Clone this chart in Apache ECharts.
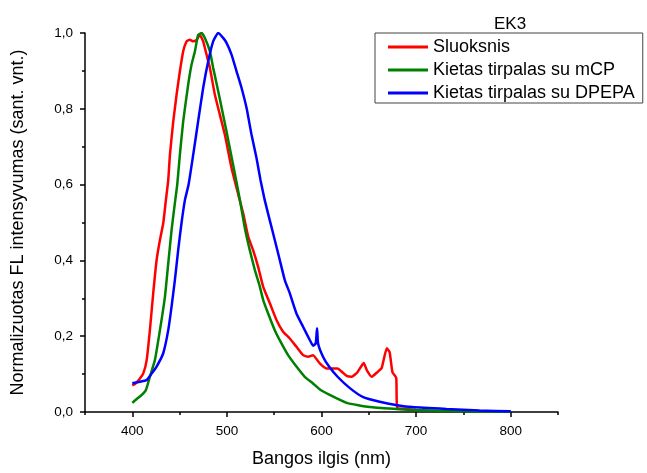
<!DOCTYPE html>
<html><head><meta charset="utf-8">
<script src="https://cdn.jsdelivr.net/npm/echarts@6/dist/echarts.min.js"></script>
<style>html,body{margin:0;padding:0;background:#fff}#c{width:647px;height:473px}</style>
</head><body><div id="c"></div>
<script>
const seriesNames = ['Sluoksnis', 'Kietas tirpalas su mCP', 'Kietas tirpalas su DPEPA'];
const colors = ['#ff0000', '#008000', '#0000ff'];
const xTicks = [400, 500, 600, 700, 800];
const xMinorTicks = [350, 450, 550, 650, 750, 850];

const redX = [400,402.8,407,411.6,415.2,418.6,422.1,425.7,429.2,432.7,435.5,438,439.8,443.3,446.8,450.3,453.8,457.4,460.9,464.4,467.9,471.4,474.9,478.5,482,487.3,492.6,497.8,504.9,511.9,517.2,522.5,527.7,533,538.3,545.4,552.4,559.4,566.5,573.5,580.5,585.8,591.1,598.2,605.2,612,617,622,626.6,632,638,644.6,648,653,659,663.6,669,672,675,679,680,690,700];
const redY = [0.07,0.074,0.085,0.102,0.137,0.216,0.313,0.401,0.454,0.498,0.559,0.612,0.679,0.767,0.837,0.899,0.952,0.978,0.982,0.978,0.982,0.995,0.978,0.943,0.908,0.837,0.784,0.732,0.644,0.575,0.524,0.463,0.427,0.383,0.331,0.287,0.243,0.212,0.194,0.172,0.15,0.146,0.15,0.128,0.115,0.115,0.115,0.105,0.095,0.093,0.105,0.129,0.11,0.093,0.105,0.116,0.168,0.158,0.105,0.09,0.012,0.008,0.005];

const greenX = [400,405,410,414.4,418.6,423.9,429.2,434.5,438,441.5,445,447.5,450.3,453.8,459.1,462.6,466.2,469.6,473.2,476.7,482,485.5,492.6,499.6,506.6,513.7,519,524.2,529.5,534.8,538.3,543.6,550.6,557.7,564.7,573.5,582.3,590.8,598,608.7,626.7,651,679,700,750,800];
const greenY = [0.024,0.035,0.045,0.058,0.093,0.137,0.216,0.304,0.392,0.48,0.551,0.6,0.679,0.767,0.864,0.916,0.952,0.995,1.0,0.987,0.952,0.908,0.825,0.74,0.652,0.56,0.485,0.427,0.375,0.331,0.296,0.26,0.216,0.181,0.15,0.12,0.093,0.076,0.06,0.045,0.024,0.013,0.008,0.005,0.002,0.001];

const blueX = [400,408,415,420,425.7,432.7,438,441.5,445,448.5,452,455.6,459.5,464.4,469.6,474.9,480.2,485.5,490.8,496,499.6,504.9,510.2,515.5,520.8,526,531.3,535.5,540,545.4,550.6,555.9,561.2,566.5,573.5,580.5,587.6,591.1,593.9,595.3,596.4,601.6,608,617,630,643.5,661.5,680,696,732,767,800];
const blueY = [0.076,0.08,0.084,0.1,0.12,0.155,0.216,0.278,0.348,0.427,0.498,0.559,0.6,0.679,0.767,0.855,0.925,0.978,1.0,0.987,0.974,0.943,0.899,0.855,0.802,0.732,0.67,0.612,0.559,0.505,0.454,0.401,0.348,0.313,0.26,0.225,0.19,0.175,0.181,0.221,0.181,0.146,0.12,0.093,0.063,0.04,0.027,0.018,0.013,0.008,0.004,0.002];

function pairs(xs, ys){ return xs.map((x,i)=>[x, ys[i]]); }
const allData = [pairs(redX, redY), pairs(greenX, greenY), pairs(blueX, blueY)];

const font = 'Arial, "Liberation Sans", sans-serif';
const chart = echarts.init(document.getElementById('c'), null, {renderer:'canvas'});
chart.setOption({
  animation: false,
  backgroundColor: '#fff',
  title: {
    text: 'EK3', left: 489, top: 11,
    textStyle: {fontFamily: font, fontSize: 17, fontWeight: 'normal', color: '#000'}
  },
  legend: {
    left: 375, top: 33, orient: 'vertical',
    data: seriesNames,
    icon: 'rect', itemWidth: 40, itemHeight: 3, itemGap: 5,
    borderColor: '#444', borderWidth: 1, padding: [5, 8, 1, 13],
    textStyle: {fontFamily: font, fontSize: 18, color: '#000', lineHeight: 18}
  },
  grid: {left: 85, right: 89, top: 33, bottom: 61},
  xAxis: [{
    type: 'value', min: 350, max: 850,
    name: 'Bangos ilgis (nm)', nameLocation: 'middle', nameGap: 38,
    nameTextStyle: {fontFamily: font, fontSize: 18, color: '#000'},
    axisLine: {show: true, lineStyle: {color: '#000', width: 1.5}},
    axisTick: {show: true, customValues: xTicks, length: 5, lineStyle: {color: '#000', width: 1.5}},
    axisLabel: {customValues: xTicks, margin: 12, fontFamily: font, fontSize: 13.5, color: '#000'},
    splitLine: {show: false}
  }, {
    type: 'value', min: 350, max: 850, position: 'bottom',
    axisLine: {show: false},
    axisTick: {show: true, customValues: xMinorTicks, length: 3, lineStyle: {color: '#000', width: 1.5}},
    axisLabel: {show: false},
    splitLine: {show: false}
  }],
  yAxis: {
    type: 'value', min: 0, max: 1, interval: 0.2,
    name: 'Normalizuotas FL intensyvumas (sant. vnt.)', nameLocation: 'middle', nameGap: 58,
    nameTextStyle: {fontFamily: font, fontSize: 18, color: '#000'},
    axisLine: {show: true, lineStyle: {color: '#000', width: 1.5}},
    axisTick: {show: true, length: 5, lineStyle: {color: '#000', width: 1.5}},
    minorTick: {show: true, splitNumber: 2, length: 3, lineStyle: {color: '#000', width: 1.5}},
    axisLabel: {margin: 12, fontFamily: font, fontSize: 13.5, color: '#000',
      formatter: v => v.toFixed(1).replace('.', ',')},
    splitLine: {show: false}
  },
  series: seriesNames.map((n, i) => ({
    name: n, type: 'line', xAxisIndex: 0, data: allData[i],
    showSymbol: false, smooth: 0.15,
    lineStyle: {color: colors[i], width: 2.5},
    itemStyle: {color: colors[i]}
  }))
});
</script></body></html>
